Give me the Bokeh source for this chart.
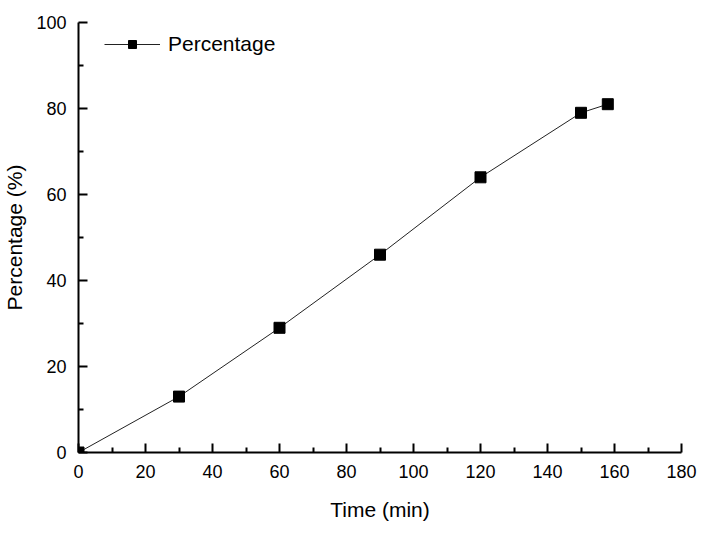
from bokeh.plotting import figure
from bokeh.models import Range1d, FixedTicker, Legend, LegendItem
from bokeh.embed import file_html
from bokeh.resources import INLINE

time_min = [0, 30, 60, 90, 120, 150, 158]
percentage = [0, 13, 29, 46, 64, 79, 81]
x_ticks = [0, 20, 40, 60, 80, 100, 120, 140, 160, 180]
x_minor = [10, 30, 50, 70, 90, 110, 130, 150, 170]
y_ticks = [0, 20, 40, 60, 80, 100]
y_minor = [10, 30, 50, 70, 90]

FONT = "Liberation Sans"

p = figure(frame_width=603, frame_height=430, output_backend="svg", toolbar_location=None,
           x_range=Range1d(0, 180), y_range=Range1d(0, 100),
           min_border_left=72, min_border_right=29, min_border_top=22, min_border_bottom=75)
p.outline_line_color = None
p.grid.visible = False
p.background_fill_color = "white"

line = p.line(time_min, percentage, line_color="#222222", line_width=1)
pts = p.scatter(time_min, percentage, marker="square", size=11, fill_color="black", line_color="black")

for ax, ticks, minor in ((p.xaxis[0], x_ticks, x_minor), (p.yaxis[0], y_ticks, y_minor)):
    ax.ticker = FixedTicker(ticks=ticks, minor_ticks=minor)
    ax.axis_line_width = 2
    ax.axis_line_color = "black"
    ax.major_tick_in = 9
    ax.major_tick_out = 0
    ax.minor_tick_in = 5
    ax.minor_tick_out = 0
    ax.major_tick_line_width = 2
    ax.minor_tick_line_width = 2
    ax.major_label_text_font = FONT
    ax.major_label_text_font_size = "18px"
    ax.major_label_text_color = "black"
    ax.axis_label_text_font = FONT
    ax.axis_label_text_font_size = "21px"
    ax.axis_label_text_font_style = "normal"
    ax.axis_label_text_color = "black"

p.xaxis.axis_label = "Time (min)"
p.yaxis.axis_label = "Percentage (%)"
p.xaxis.major_label_standoff = 12
p.yaxis.major_label_standoff = 12
p.xaxis.axis_label_standoff = 17
p.yaxis.axis_label_standoff = 7

legend = Legend(items=[LegendItem(label="Percentage", renderers=[line, pts])],
                location=(26, 396), border_line_color=None, background_fill_alpha=0,
                label_text_font=FONT, label_text_font_size="21px", label_text_color="black",
                glyph_width=56, glyph_height=20, padding=0, margin=0, label_standoff=8)
p.add_layout(legend)

open("out.html", "w").write(file_html(p, INLINE))
